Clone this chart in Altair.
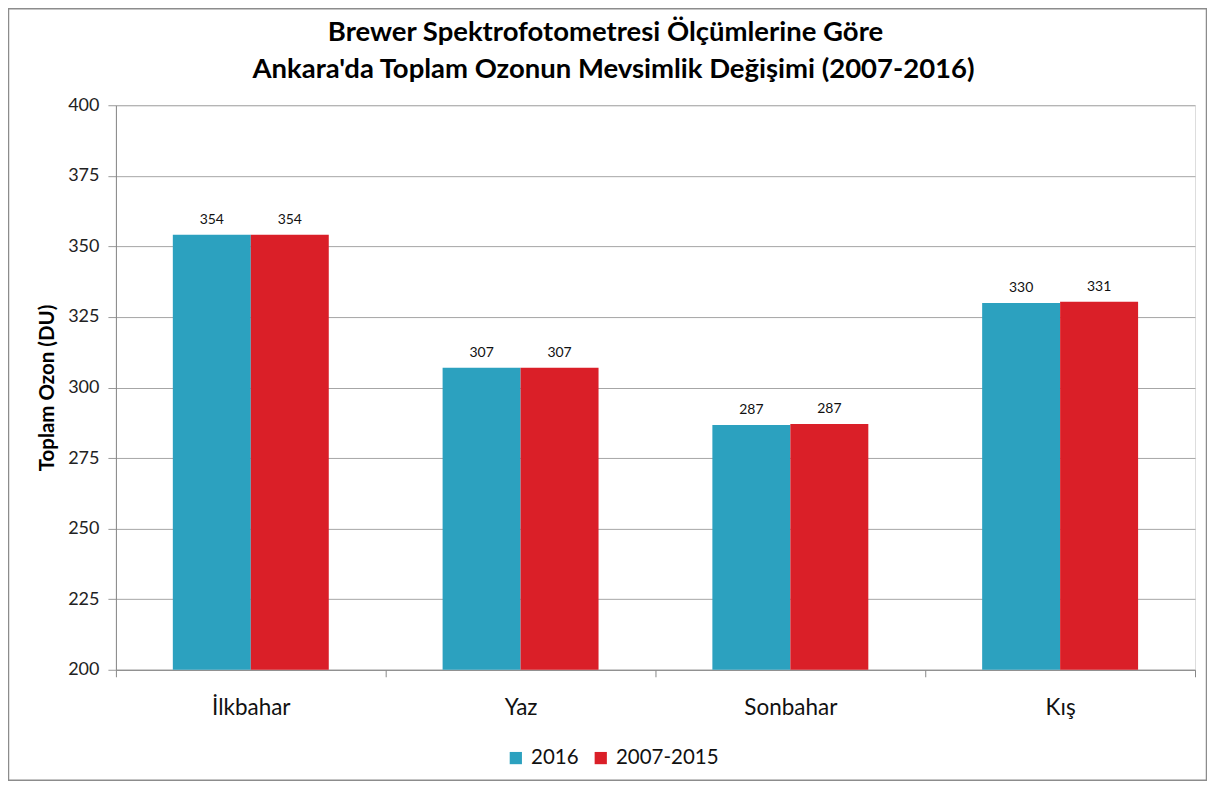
import altair as alt
import pandas as pd

seasons = ["İlkbahar", "Yaz", "Sonbahar", "Kış"]
series_names = ["2016", "2007-2015"]
values_2016 = [354.1, 307.0, 286.7, 329.9]
values_ref = [354.1, 307.0, 287.1, 330.4]
labels_2016 = ["354", "307", "287", "330"]
labels_ref = ["354", "307", "287", "331"]
colors = ["#2CA1BF", "#DA1F28"]
title_lines = ["Brewer Spektrofotometresi Ölçümlerine Göre",
               "Ankara'da Toplam Ozonun Mevsimlik Değişimi (2007-2016)"]

rows = []
for i, s in enumerate(seasons):
    rows.append({"Mevsim": s, "Seri": series_names[0], "Deger": values_2016[i], "Etiket": labels_2016[i]})
    rows.append({"Mevsim": s, "Seri": series_names[1], "Deger": values_ref[i], "Etiket": labels_ref[i]})
df = pd.DataFrame(rows)

FONT = "Lato"
W, H = 1080, 565

y_scale = alt.Scale(domain=[200, 400], zero=False, nice=False)
x_scale = alt.Scale(paddingInner=0, paddingOuter=0)
xo_scale = alt.Scale(paddingOuter=0.73, paddingInner=0)
y_axis = alt.Axis(values=list(range(200, 401, 25)), title="Toplam Ozon (DU)",
                  labelFontSize=18, labelColor="#222", labelFont=FONT, tickSize=8, labelPadding=9,
                  tickColor="#999", domainColor="#888", gridColor="#A6A6A6", titleFontSize=20.5,
                  titleFont=FONT, titleFontWeight="bold", titleColor="#000", titlePadding=10)
x_axis = alt.Axis(labelAngle=0, title=None, labelFontSize=22.5, labelColor="#111", labelFont=FONT,
                  labelPadding=20, tickBand="extent", tickSize=7, tickColor="#888",
                  domainColor="#888", grid=False)

base = alt.Chart(df)

bars = base.mark_bar().encode(
    x=alt.X("Mevsim:N", sort=seasons, scale=x_scale, axis=x_axis),
    xOffset=alt.XOffset("Seri:N", sort=series_names, scale=xo_scale),
    y=alt.Y("Deger:Q", scale=y_scale, axis=y_axis),
    y2=alt.datum(200),
    color=alt.Color("Seri:N", sort=series_names,
                    scale=alt.Scale(domain=series_names, range=colors),
                    legend=alt.Legend(title=None, orient="none", legendX=390, legendY=643,
                                      direction="horizontal", symbolType="square", symbolSize=150,
                                      symbolStrokeWidth=0, labelFontSize=20.5, labelFont=FONT,
                                      labelColor="#111", columnPadding=11, labelOffset=5)),
)

text = base.mark_text(baseline="bottom", dy=-8, fontSize=14, font=FONT, color="#111").encode(
    x=alt.X("Mevsim:N", sort=seasons, scale=x_scale, axis=x_axis),
    xOffset=alt.XOffset("Seri:N", sort=series_names, scale=xo_scale),
    y=alt.Y("Deger:Q", scale=y_scale, axis=y_axis),
    text="Etiket:N",
)

border = alt.Chart(pd.DataFrame({"a": [0]})).mark_rect(
    fill=None, stroke="#8C8C8C", strokeWidth=1.5
).encode(
    x=alt.value(-107.5), x2=alt.value(W + 11.5), y=alt.value(-96.5), y2=alt.value(H + 110.5)
)

title1 = alt.Chart(pd.DataFrame({"line": [title_lines[0]]})).mark_text(
    fontSize=27.5, font=FONT, fontWeight="bold", color="#000", align="center", baseline="alphabetic"
).encode(x=alt.value(490), y=alt.value(-64), text="line:N")
title2 = alt.Chart(pd.DataFrame({"line": [title_lines[1]]})).mark_text(
    fontSize=27.5, font=FONT, fontWeight="bold", color="#000", align="center", baseline="alphabetic"
).encode(x=alt.value(498), y=alt.value(-27), text="line:N")

chart = alt.layer(border, bars, text, title1, title2).properties(
    width=W, height=H,
    autosize=alt.AutoSizeParams(type="none"),
    padding={"left": 108, "top": 97, "right": 12, "bottom": 111},
).configure_view(stroke=None).configure(background="white")

chart.save("out.html", embed_options={"renderer": "svg", "actions": False})
